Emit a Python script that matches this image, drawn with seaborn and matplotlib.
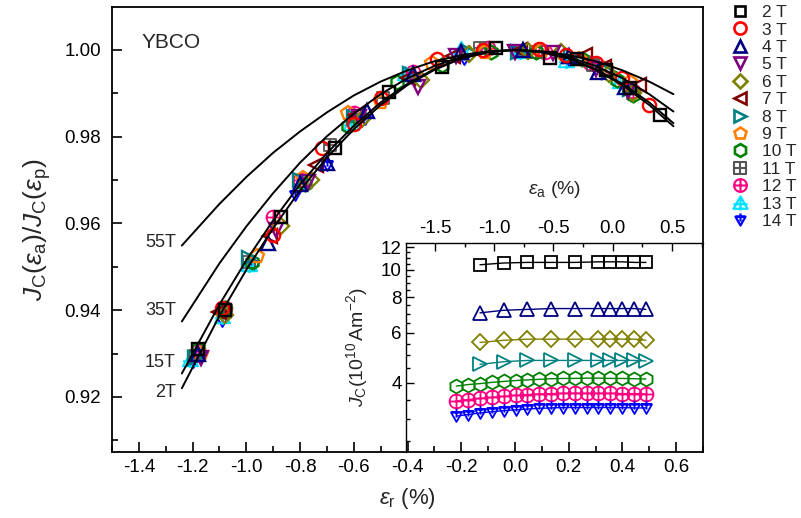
import numpy as np
import pandas as pd
import matplotlib
matplotlib.use("Agg")
import matplotlib.pyplot as plt
from matplotlib.path import Path
from matplotlib.markers import MarkerStyle
from matplotlib.lines import Line2D
import matplotlib.ticker as mticker
import seaborn as sns

# ---------------- data ----------------
fields = ["2 T", "3 T", "4 T", "5 T", "6 T", "7 T", "8 T", "9 T",
          "10 T", "11 T", "12 T", "13 T", "14 T"]

er_2 = [-1.18, -1.08, -0.87, -0.67, -0.47, -0.27, -0.07, 0.13, 0.23, 0.34, 0.43, 0.54]
jr_2 = [0.931, 0.940, 0.9615, 0.9774, 0.9903, 0.9961, 1.0005, 0.9982, 0.9979, 0.9954, 0.9912, 0.985]
er_3 = [-1.09, -0.90, -0.72, -0.60, -0.50, -0.29, -0.12, 0.09, 0.19, 0.30, 0.40, 0.50]
jr_3 = [0.9405, 0.9573, 0.9774, 0.983, 0.989, 0.998, 1.000, 1.0002, 0.9988, 0.997, 0.9935, 0.9873]
er_4 = [-1.18, -0.92, -0.80, -0.70, -0.55, -0.38, -0.20, 0.03, 0.20, 0.31, 0.41]
jr_4 = [0.930, 0.9555, 0.969, 0.974, 0.986, 0.9945, 0.9995, 1.000, 0.9985, 0.995, 0.9915]
er_5 = [-1.17, -0.89, -0.77, -0.58, -0.36, -0.22, 0.00, 0.14, 0.30, 0.42]
jr_5 = [0.929, 0.9585, 0.9695, 0.9845, 0.9915, 0.9985, 0.9995, 0.9992, 0.9955, 0.9905]
er_6 = [-1.08, -0.87, -0.76, -0.57, -0.35, -0.17, 0.05, 0.17, 0.35, 0.44]
jr_6 = [0.939, 0.9595, 0.970, 0.984, 0.993, 0.9990, 0.9998, 0.9995, 0.9945, 0.990]
er_7 = [-1.10, -0.91, -0.74, -0.59, -0.40, -0.23, 0.02, 0.26, 0.33, 0.46]
jr_7 = [0.9395, 0.957, 0.9735, 0.985, 0.9935, 0.9985, 1.0, 0.9988, 0.996, 0.992]
er_8 = [-1.19, -0.99, -0.80, -0.60, -0.39, -0.17, 0.01, 0.21, 0.35, 0.43]
jr_8 = [0.929, 0.952, 0.970, 0.9845, 0.9945, 0.9995, 0.9995, 0.9985, 0.995, 0.991]
er_9 = [-1.17, -0.96, -0.79, -0.62, -0.50, -0.31, -0.11, 0.10, 0.24, 0.34, 0.43]
jr_9 = [0.930, 0.9525, 0.9705, 0.9855, 0.988, 0.997, 0.9995, 1.0, 0.998, 0.9955, 0.9925]
er_10 = [-1.18, -1.08, -0.98, -0.78, -0.62, -0.44, -0.27, -0.09, 0.08, 0.25, 0.38, 0.44]
jr_10 = [0.931, 0.9405, 0.951, 0.969, 0.9825, 0.9925, 0.9965, 0.9995, 0.9995, 0.998, 0.993, 0.9895]
er_11 = [-1.19, -1.08, -0.99, -0.69, -0.49, -0.13, 0.08, 0.29]
jr_11 = [0.9295, 0.9395, 0.951, 0.978, 0.989, 1.0005, 0.9995, 0.9965]
er_12 = [-1.18, -1.08, -0.90, -0.80, -0.60, -0.38, -0.10, 0.11, 0.28, 0.44]
jr_12 = [0.9305, 0.9405, 0.9615, 0.970, 0.9855, 0.995, 1.0005, 0.9995, 0.997, 0.9905]
er_13 = [-1.21, -1.09, -0.99, -0.79, -0.61, -0.41, -0.20, 0.02, 0.19, 0.39]
jr_13 = [0.9285, 0.9385, 0.9505, 0.9695, 0.983, 0.9945, 1.0003, 0.9995, 0.9975, 0.9925]
er_14 = [-1.20, -1.09, -0.97, -0.82, -0.70, -0.56, -0.38, -0.19, 0.00, 0.20, 0.41]
jr_14 = [0.928, 0.9375, 0.9505, 0.9665, 0.9735, 0.9840, 0.9935, 0.998, 0.9995, 0.9975, 0.9915]

# fitted curves
fit_x = [-1.24, -1.1, -1.0, -0.9, -0.8, -0.7, -0.6, -0.5, -0.4, -0.3, -0.2, -0.1,
         0.0, 0.1, 0.2, 0.3, 0.4, 0.5, 0.59]
fit_2T = [0.9220, 0.9387, 0.9493, 0.9589, 0.9676, 0.9752, 0.9817, 0.9873, 0.9919, 0.9954,
          0.9980, 0.9995, 1.0, 0.9995, 0.9980, 0.9954, 0.9919, 0.9873, 0.9824]
fit_15T = [0.9254, 0.9413, 0.9515, 0.9607, 0.9690, 0.9762, 0.9825, 0.9879, 0.9922, 0.9956,
           0.9981, 0.9995, 1.0, 0.9995, 0.9981, 0.9956, 0.9922, 0.9879, 0.9831]
fit_35T = [0.9374, 0.9508, 0.9593, 0.9670, 0.9740, 0.9801, 0.9853, 0.9898, 0.9935, 0.9963,
           0.9984, 0.9996, 1.0, 0.9996, 0.9984, 0.9963, 0.9935, 0.9898, 0.9858]
fit_55T = [0.9549, 0.9645, 0.9707, 0.9763, 0.9812, 0.9856, 0.9895, 0.9927, 0.9953, 0.9974,
           0.9988, 0.9997, 1.0, 0.9997, 0.9988, 0.9974, 0.9953, 0.9927, 0.9898]
fit_labels = ["55T", "35T", "15T", "2T"]
fit_label_y = [0.9555, 0.9400, 0.9280, 0.9210]

# inset: Jc vs applied strain
ea_sparse = [-1.12, -0.92, -0.72, -0.52, -0.32, -0.12, -0.02, 0.08, 0.18, 0.28]
ea_dense = [-1.32, -1.22, -1.12, -1.02, -0.92, -0.82, -0.72, -0.62, -0.52, -0.42,
            -0.32, -0.22, -0.12, -0.02, 0.08, 0.18, 0.28]
jc_2 = [10.4, 10.55, 10.6, 10.6, 10.6, 10.65, 10.65, 10.65, 10.6, 10.6]
jc_4 = [7.05, 7.2, 7.25, 7.3, 7.3, 7.3, 7.3, 7.3, 7.3, 7.25]
jc_6 = [5.55, 5.65, 5.7, 5.7, 5.7, 5.7, 5.7, 5.7, 5.7, 5.65]
jc_8 = [4.65, 4.75, 4.8, 4.8, 4.8, 4.8, 4.8, 4.8, 4.8, 4.78]
jc_10 = [3.9, 3.95, 3.98, 4.02, 4.05, 4.08, 4.1, 4.12, 4.14, 4.15, 4.15, 4.16, 4.16,
         4.15, 4.15, 4.14, 4.13]
jc_12 = [3.46, 3.5, 3.53, 3.56, 3.59, 3.62, 3.64, 3.66, 3.67, 3.68, 3.68, 3.68, 3.68,
         3.68, 3.67, 3.67, 3.66]
jc_14 = [3.06, 3.1, 3.14, 3.17, 3.2, 3.22, 3.24, 3.26, 3.27, 3.28, 3.28, 3.28, 3.28,
         3.28, 3.28, 3.27, 3.27]

main_x = [er_2, er_3, er_4, er_5, er_6, er_7, er_8, er_9, er_10, er_11, er_12, er_13, er_14]
main_y = [jr_2, jr_3, jr_4, jr_5, jr_6, jr_7, jr_8, jr_9, jr_10, jr_11, jr_12, jr_13, jr_14]

# ---------------- style ----------------
sns.set_theme(style="ticks")
plt.rcParams["font.family"] = ["Liberation Sans", "DejaVu Sans"]
plt.rcParams["mathtext.fontset"] = "custom"
plt.rcParams["mathtext.rm"] = "Liberation Sans"
plt.rcParams["mathtext.it"] = "Liberation Sans:italic"
plt.rcParams["mathtext.bf"] = "Liberation Sans:bold"

M, L, C = Path.MOVETO, Path.LINETO, Path.CLOSEPOLY
plus = Path.make_compound_path(Path([[-1, 0], [1, 0]], [M, L]),
                               Path([[0, -1], [0, 1]], [M, L]))
sq = Path([[-1, -1], [1, -1], [1, 1], [-1, 1], [-1, -1]], [M, L, L, L, C])
square_plus = Path.make_compound_path(sq, plus)
circle_plus = Path.make_compound_path(Path.unit_circle(), plus)
tri_up = Path([[0, 1], [-1, -0.75], [1, -0.75], [0, 1]], [M, L, L, C])
tri_up_plus = Path.make_compound_path(
    tri_up, Path([[-1, -0.1], [1, -0.1]], [M, L]), Path([[0, -1], [0, 0.8]], [M, L]))
tri_dn = Path([[0, -1], [-1, 0.75], [1, 0.75], [0, -1]], [M, L, L, C])
tri_dn_plus = Path.make_compound_path(
    tri_dn, Path([[-1, 0.75], [1, 0.75]], [M, L]), Path([[0, -0.2], [0, 1.4]], [M, L]))

markers = ["s", "o", "^", "v", "D", "<", ">", "p", "h",
           MarkerStyle(square_plus), MarkerStyle(circle_plus),
           MarkerStyle(tri_up_plus), MarkerStyle(tri_dn_plus)]
msizes = [8.5, 9.5, 9.5, 9.5, 8, 9.5, 9.5, 10, 10, 9, 10, 11, 11]
mews = [1.7] * 9 + [1.3, 1.3, 1.4, 1.4]
colors = ["#000000", "#FF0000", "#000080", "#800080", "#808000", "#800000",
          "#008080", "#FF8000", "#008000", "#555555", "#FF0080", "#00E0FF", "#0000FF"]

fig = plt.figure(figsize=(8.01, 5.18), dpi=100)
ax = fig.add_axes([112 / 801, 1 - 452 / 518, (703 - 112) / 801, (452 - 7) / 518])

# data points
for i in range(len(fields) - 1, -1, -1):
    df = pd.DataFrame({"x": main_x[i], "y": main_y[i]})
    sns.lineplot(data=df, x="x", y="y", ax=ax, sort=False, linestyle="",
                 marker=markers[i], markersize=msizes[i], markerfacecolor="none",
                 markeredgecolor=colors[i], markeredgewidth=mews[i], color=colors[i],
                 zorder=3 + (len(fields) - i) * 0.01)

# fit curves
for fy in [fit_55T, fit_35T, fit_15T, fit_2T]:
    sns.lineplot(x=fit_x, y=fy, ax=ax, color="black", linewidth=1.4, zorder=4, sort=False)

for lab, yy in zip(fit_labels, fit_label_y):
    ax.text(-1.262, yy, lab, ha="right", va="center", fontsize=13)
ax.text(-1.39, 1.0018, "YBCO", ha="left", va="center", fontsize=15)

ax.set_xlim(-1.5, 0.7)
ax.set_ylim(0.9073, 1.0099)
ax.xaxis.set_major_locator(mticker.MultipleLocator(0.2))
ax.xaxis.set_minor_locator(mticker.MultipleLocator(0.1))
ax.yaxis.set_major_locator(mticker.MultipleLocator(0.02))
ax.yaxis.set_minor_locator(mticker.MultipleLocator(0.01))
ax.xaxis.set_major_formatter(mticker.FormatStrFormatter("%.1f"))
ax.yaxis.set_major_formatter(mticker.FormatStrFormatter("%.2f"))
ax.tick_params(axis="both", which="both", direction="in", top=False, right=False,
               width=1.2, labelsize=13.5, colors="black")
ax.tick_params(axis="both", which="major", length=7)
ax.tick_params(axis="both", which="minor", length=4)
ax.tick_params(axis="x", which="major", pad=5)
ax.tick_params(axis="y", which="major", pad=8)
for sp in ax.spines.values():
    sp.set_linewidth(1.3)
    sp.set_color("black")
ax.set_xlabel(r"$\varepsilon_\mathrm{r}$ (%)", fontsize=16, labelpad=7)
ax.set_ylabel(r"$J_\mathrm{C}(\varepsilon_\mathrm{a})/J_\mathrm{C}(\varepsilon_\mathrm{p})$",
              fontsize=19, labelpad=8)

# legend
handles = [Line2D([], [], linestyle="", marker=markers[i], markersize=msizes[i] * 0.92,
                  markerfacecolor="none", markeredgecolor=colors[i], markeredgewidth=mews[i] + 0.2)
           for i in range(len(fields))]
fig.legend(handles, fields, loc="upper left", bbox_to_anchor=(731 / 801, 1 - 5 / 518),
           frameon=False, fontsize=12.5, borderpad=0, handlelength=1.0,
           handletextpad=0.8, labelspacing=0.13, borderaxespad=0)

# inset
axi = fig.add_axes([405.7 / 801, 1 - 452 / 518, (703 - 405.7) / 801, (452 - 243) / 518])
axi.set_facecolor("none")
inset_x = [ea_sparse, ea_sparse, ea_sparse, ea_sparse, ea_dense, ea_dense, ea_dense]
inset_y = [jc_2, jc_4, jc_6, jc_8, jc_10, jc_12, jc_14]
inset_idx = [0, 2, 4, 6, 8, 10, 12]
for xs, ys, i in zip(inset_x, inset_y, inset_idx):
    sns.lineplot(x=xs, y=ys, ax=axi, sort=False, color=colors[i], linewidth=1.0,
                 marker=markers[i], markersize=msizes[i], markerfacecolor="none",
                 markeredgecolor=colors[i], markeredgewidth=1.3)
axi.set_yscale("log")
axi.set_xlim(-1.747, 0.762)
axi.set_ylim(2.29, 12.4)
axi.xaxis.tick_top()
axi.xaxis.set_label_position("top")
axi.xaxis.set_major_locator(mticker.FixedLocator([-1.5, -1.0, -0.5, 0.0, 0.5]))
axi.xaxis.set_minor_locator(mticker.FixedLocator([-1.75, -1.25, -0.75, -0.25, 0.25, 0.75]))
axi.xaxis.set_major_formatter(mticker.FormatStrFormatter("%.1f"))
axi.yaxis.set_major_locator(mticker.FixedLocator([4, 6, 8, 10, 12]))
axi.yaxis.set_major_formatter(mticker.FixedFormatter(["4", "6", "8", "10", "12"]))
axi.yaxis.set_minor_locator(mticker.FixedLocator(
    [2.5, 3, 3.5, 4.5, 5, 5.5, 6.5, 7, 7.5, 8.5, 9, 9.5, 10.5, 11, 11.5]))
axi.yaxis.set_minor_formatter(mticker.NullFormatter())
axi.tick_params(axis="both", which="both", direction="in", bottom=False, right=False,
                width=1.0, labelsize=13.5, colors="black")
axi.tick_params(axis="both", which="major", length=6)
axi.tick_params(axis="both", which="minor", length=3)
axi.tick_params(axis="x", which="major", pad=4)
axi.tick_params(axis="y", which="major", pad=3)
axi.spines["right"].set_visible(False)
axi.spines["bottom"].set_visible(False)
for s in ["left", "top"]:
    axi.spines[s].set_linewidth(1.0)
    axi.spines[s].set_color("black")
axi.set_xlabel(r"$\varepsilon_\mathrm{a}$ (%)", fontsize=14, labelpad=19)
axi.set_ylabel(r"$J_\mathrm{C}(10^{10}\,\mathrm{Am}^{-2})$", fontsize=14, labelpad=8)

fig.savefig("out.png", dpi=100)
